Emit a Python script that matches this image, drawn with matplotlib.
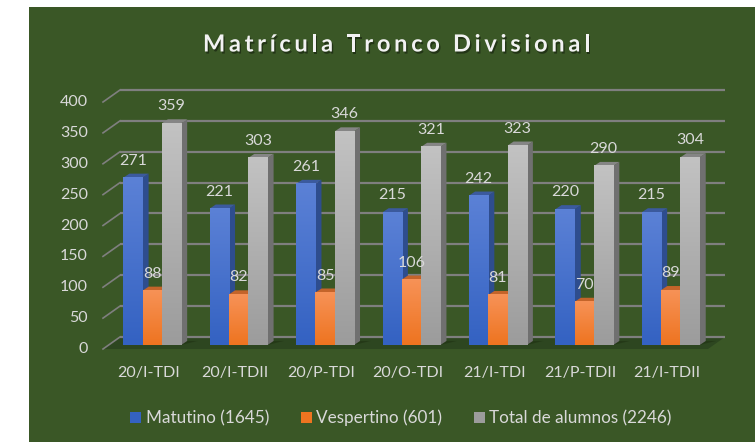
import numpy as np
import matplotlib
matplotlib.use("Agg")
import matplotlib.pyplot as plt
from matplotlib.patches import Polygon, Rectangle, Patch
from matplotlib.colors import LinearSegmentedColormap
import matplotlib.patheffects as pe

categories = ["20/I-TDI", "20/I-TDII", "20/P-TDI", "20/O-TDI", "21/I-TDI", "21/P-TDII", "21/I-TDII"]
matutino = [271, 221, 261, 215, 242, 220, 215]
vespertino = [88, 82, 85, 106, 81, 70, 89]
total = [359, 303, 346, 321, 323, 290, 304]
series_names = ["Matutino (1645)", "Vespertino (601)", "Total de alumnos (2246)"]
yticks = [0, 50, 100, 150, 200, 250, 300, 350, 400]
title = "Matrícula Tronco Divisional"

plt.rcParams['font.family'] = ['Lato', 'DejaVu Sans']

GREEN = "#3A5726"
TXT = "#D9D9D9"
GRID = "#7F7F7F"

# face colours: (front top, front bottom, side, top)
styles = [
    ("#5B81D6", "#3462C2", "#2E4D8E", "#3B5A9E"),
    ("#F79257", "#EE7420", "#B0561A", "#C4642A"),
    ("#C2C2C2", "#9C9C9C", "#707070", "#858585"),
]

W, H, DPI = 755, 442, 100
fig = plt.figure(figsize=(W / DPI, H / DPI), dpi=DPI, facecolor="white")
fig.patches.append(Rectangle((29 / W, 0), 1 - 29 / W, 1 - 7 / H, transform=fig.transFigure,
                             facecolor=GREEN, edgecolor="none", zorder=-10))

ax = fig.add_axes([108 / W, (H - 345) / H, 605 / W, 247 / H])
ax.set_xlim(0, 7)
ax.set_ylim(0, 400)
ax.axis("off")
ax.patch.set_alpha(0)

n = len(categories)
BW = 0.223
OFF0 = 0.177
DXB, DYB = 0.07, 6.5      # bar depth
DXW, DYW = 0.139, 13.0    # back wall offset
DXF, DYF = -0.058, -6.5   # front plane offset

# floor
ax.add_patch(Polygon([(DXF, DYF), (n + DXF, DYF), (n + DXW, DYW), (DXW, DYW)],
                     closed=True, facecolor="#2D4620", edgecolor="none", zorder=1, clip_on=False))
# gridlines
for v in yticks:
    ax.plot([DXW, n + DXW], [v + DYW, v + DYW], color=GRID, lw=1.6, zorder=1.5, clip_on=False,
            solid_capstyle="butt")
    ax.plot([DXF, DXW], [v + DYF, v + DYW], color=GRID, lw=1.2, zorder=1.5, clip_on=False)
    ax.text(-0.231, v + DYF, str(v), ha="right", va="center", color=TXT, fontsize=11.5, clip_on=False)

def grad_rect(x0, x1, y0, y1, ctop, cbot, z):
    cmap = LinearSegmentedColormap.from_list("g", [cbot, ctop])
    g = np.linspace(0, 1, 64).reshape(-1, 1)
    ax.imshow(g, extent=[x0, x1, y0, y1], origin="lower", aspect="auto", cmap=cmap,
              zorder=z, interpolation="bilinear", clip_on=False)

series = [matutino, vespertino, total]
z = 3
for i in range(n):
    x_start = i + OFF0
    # shadow
    gx1 = x_start + 3 * BW
    ax.add_patch(Polygon([(x_start, 0), (gx1, 0), (gx1 + DXB + 0.12, DYB), (x_start + DXB, DYB)],
                         closed=True, facecolor="#1E3011", alpha=0.55, edgecolor="none", zorder=2,
                         clip_on=False))
    for s, vals in enumerate(series):
        v = vals[i]
        x0 = x_start + s * BW
        x1 = x0 + BW
        ft, fb, side, top = styles[s]
        ax.add_patch(Polygon([(x1, 0), (x1 + DXB, DYB), (x1 + DXB, v + DYB), (x1, v)], closed=True,
                             facecolor=side, edgecolor="none", zorder=z, clip_on=False))
        ax.add_patch(Polygon([(x0, v), (x1, v), (x1 + DXB, v + DYB), (x0 + DXB, v + DYB)], closed=True,
                             facecolor=top, edgecolor="none", zorder=z, clip_on=False))
        grad_rect(x0, x1, 0, v, ft, fb, z + 0.5)
        z += 1
    for s, vals in enumerate(series):
        v = vals[i]
        xc = x_start + s * BW + BW / 2
        ax.text(xc, v + 27.5, str(v), ha="center", va="center", color=TXT, fontsize=11.5,
                zorder=100, clip_on=False)
    ax.text(i + 0.47, -45.3, categories[i], ha="center", va="center", color=TXT, fontsize=11.5,
            clip_on=False)

ax.set_xlim(0, 7)
ax.set_ylim(0, 400)

# title with letter spacing
renderer = fig.canvas.get_renderer()
tkw = dict(color="#F2F2F2", fontsize=17, fontweight="bold", va="center", ha="left",
           path_effects=[pe.withSimplePatchShadow(offset=(1, -1.5), shadow_rgbFace="black", alpha=0.4)])
chars = [fig.text(0, 1 - 44 / H, c, **tkw) for c in title]
widths = []
for c, t in zip(title, chars):
    if c == " ":
        tmp = fig.text(0, 0, "a a", fontsize=17, fontweight="bold")
        tmp2 = fig.text(0, 0, "aa", fontsize=17, fontweight="bold")
        w = tmp.get_window_extent(renderer).width - tmp2.get_window_extent(renderer).width
        tmp.remove(); tmp2.remove()
    else:
        w = t.get_window_extent(renderer).width
    widths.append(w)
target_l, target_r = 203.0, 590.0
spacing = ((target_r - target_l) - sum(widths)) / (len(title) - 1)
x = target_l
for t, w in zip(chars, widths):
    t.set_x(x / W)
    x += w + spacing

handles = [Patch(facecolor=styles[k][1], edgecolor="none") for k in range(3)]
fig.legend(handles, series_names, loc="center", bbox_to_anchor=(401 / W, 1 - 418 / H), ncol=3,
           frameon=False, labelcolor=TXT, fontsize=12.3, handlelength=0.66, handleheight=0.66,
           handletextpad=0.25, columnspacing=1.85)

fig.savefig("out.png", dpi=DPI, facecolor="white")
